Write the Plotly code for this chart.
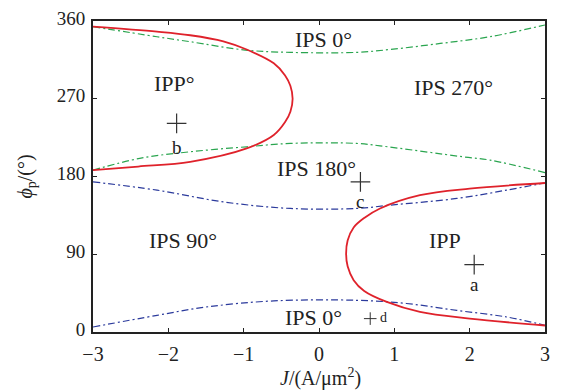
import plotly.graph_objects as go

# ---- data ----
red1_J = [-3.0, -2.15, -1.71, -1.27, -0.96, -0.6, -0.45, -0.38, -0.35, -0.38, -0.45, -0.6, -0.96, -1.71, -2.4, -3.0]
red1_phi = [353.4, 347.6, 343.5, 336.5, 327.0, 311.0, 297.0, 285.0, 270.0, 255.0, 243.0, 228.0, 212.5, 197.0, 191.5, 187.4]

red2_J = [3.0, 2.0, 1.34, 0.81, 0.6, 0.46, 0.38, 0.36, 0.38, 0.46, 0.6, 0.9, 1.34, 2.0, 3.0]
red2_phi = [172.5, 166.0, 158.4, 143.0, 132.0, 121.0, 106.0, 90.8, 76.0, 60.0, 47.5, 34.8, 23.2, 15.5, 7.5]

green_top_J = [-3.0, -2.15, -1.71, -0.98, -0.38, 0.5, 0.94, 1.61, 2.27, 3.0]
green_top_phi = [353.4, 341.8, 336.0, 326.4, 323.7, 323.7, 327.0, 334.0, 341.8, 355.4]

green_bot_J = [-3.0, -2.38, -1.71, -0.96, -0.38, 0.5, 0.81, 1.91, 2.27, 3.0]
green_bot_phi = [187.4, 201.0, 208.6, 214.4, 218.3, 218.3, 215.5, 202.8, 199.0, 184.5]

blue_top_J = [-3.0, -2.15, -1.27, -0.38, 0.5, 0.94, 1.83, 2.49, 3.0]
blue_top_phi = [173.8, 164.2, 150.6, 143.0, 143.0, 146.8, 154.6, 164.2, 172.6]

blue_bot_J = [-3.0, -2.15, -1.49, -0.6, 0.5, 1.16, 1.83, 2.49, 3.0]
blue_bot_phi = [5.8, 19.3, 29.0, 36.0, 36.7, 33.0, 25.0, 17.4, 7.8]

point_names = ["a", "b", "c"]
point_J = [2.06, -1.89, 0.55]
point_phi = [78.0, 241.5, 173.8]
point_label_shift = [-16, -20, -16]

point_d_J = 0.68
point_d_phi = 15.5

region_labels = ["IPS 0°", "IPP°", "IPS 270°", "IPS 180°", "IPS 90°", "IPP", "IPS 0°"]
region_J = [0.06, -1.92, 1.79, -0.03, -1.8, 1.67, -0.07]
region_phi = [339.0, 287.8, 283.2, 189.3, 106.0, 106.2, 17.0]

x_ticks = [-3, -2, -1, 0, 1, 2, 3]
y_ticks = [0, 90, 180, 270, 360]

RED = "#df222b"
GREEN = "#2aa54f"
BLUE = "#2b3a9c"
DASH = "7px,3px,2px,3px"
FONT = "Liberation Serif"

fig = go.Figure()

for J, P in [(green_top_J, green_top_phi), (green_bot_J, green_bot_phi)]:
    fig.add_trace(go.Scatter(x=J, y=P, mode="lines", line=dict(color=GREEN, width=1.2, dash=DASH, shape="spline"),
                             hoverinfo="skip", showlegend=False))
for J, P in [(blue_top_J, blue_top_phi), (blue_bot_J, blue_bot_phi)]:
    fig.add_trace(go.Scatter(x=J, y=P, mode="lines", line=dict(color=BLUE, width=1.2, dash=DASH, shape="spline"),
                             hoverinfo="skip", showlegend=False))
for J, P in [(red1_J, red1_phi), (red2_J, red2_phi)]:
    fig.add_trace(go.Scatter(x=J, y=P, mode="lines", line=dict(color=RED, width=1.8, shape="spline", smoothing=1.0),
                             hoverinfo="skip", showlegend=False))

fig.add_trace(go.Scatter(x=point_J, y=point_phi, mode="markers",
                         marker=dict(symbol="cross-thin", size=14, line=dict(width=1.2, color="#333")),
                         hoverinfo="skip", showlegend=False))
fig.add_trace(go.Scatter(x=[point_d_J], y=[point_d_phi], mode="markers",
                         marker=dict(symbol="cross-thin", size=9, line=dict(width=1, color="#333")),
                         hoverinfo="skip", showlegend=False))

for name, J, P, s in zip(point_names, point_J, point_phi, point_label_shift):
    fig.add_annotation(x=J, y=P, text=name, showarrow=False, yshift=s - 4,
                       font=dict(family=FONT, size=19, color="#222"))
fig.add_annotation(x=point_d_J, y=point_d_phi, text="d", showarrow=False, xshift=13, yshift=1,
                   font=dict(family=FONT, size=14, color="#222"))

for t, J, P in zip(region_labels, region_J, region_phi):
    fig.add_annotation(x=J, y=P, text=t, showarrow=False,
                       font=dict(family=FONT, size=22, color="#222"))

# axis titles
fig.add_annotation(xref="paper", yref="paper", x=0.504, y=-0.145, yanchor="middle",
                   text="<i>J</i>/(A/μm<sup>2</sup>)",
                   showarrow=False, font=dict(family=FONT, size=20, color="#222"))
fig.add_annotation(xref="paper", yref="paper", x=-0.148, y=0.5, xanchor="center",
                   text="<i>ϕ</i><sub>p</sub>/(°)",
                   textangle=-90, showarrow=False, font=dict(family=FONT, size=20, color="#222"))

axis_common = dict(showgrid=False, zeroline=False, showline=True, linewidth=2, linecolor="#222",
                   mirror="ticks", ticks="inside", ticklen=4, tickwidth=1, tickcolor="#222",
                   ticklabeloverflow="allow", automargin=False)

# page body has an 8px margin, so the figure is offset by 8px
fig.update_layout(
    width=556, height=382,
    margin=dict(l=85, r=19, t=13, b=58),
    paper_bgcolor="white", plot_bgcolor="white",
    xaxis=dict(range=[-3, 3], tickvals=x_ticks, ticklabelstandoff=3,
               tickfont=dict(family=FONT, size=20, color="#222"), **axis_common),
    yaxis=dict(range=[0, 360], tickvals=y_ticks, ticklabelshift=-3, ticklabelstandoff=2,
               tickfont=dict(family=FONT, size=19, color="#222"), **axis_common),
)

fig.write_html("out.html")
